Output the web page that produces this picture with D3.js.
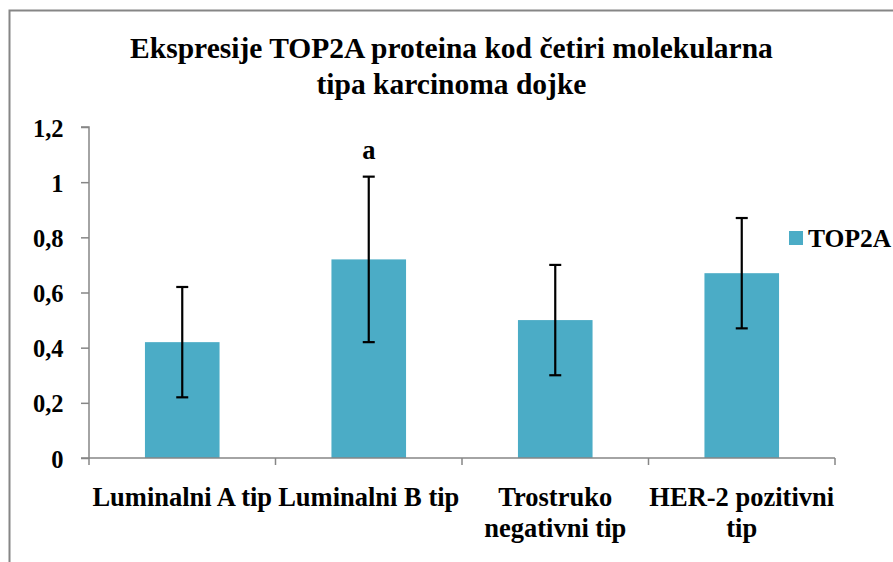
<!DOCTYPE html>
<html><head><meta charset="utf-8">
<script src="https://cdn.jsdelivr.net/npm/d3@7"></script>
<style>body{margin:0;background:#fff}svg{display:block}text{font-family:"Liberation Serif","Times New Roman",serif;font-weight:bold;fill:#000}</style>
</head><body>
<svg id="c" width="893" height="562"></svg>
<script>
const categories = [["Luminalni A tip"], ["Luminalni B tip"], ["Trostruko", "negativni tip"], ["HER-2 pozitivni", "tip"]];
const values = [0.42, 0.72, 0.5, 0.67];
const errors = [0.2, 0.3, 0.2, 0.2];
const marks = ["", "a", "", ""];
const yTicks = [0, 0.2, 0.4, 0.6, 0.8, 1, 1.2];
const tickLabels = ["0", "0,2", "0,4", "0,6", "0,8", "1", "1,2"];
const seriesName = "TOP2A";
const titleLines = ["Ekspresije TOP2A proteina kod četiri molekularna", "tipa karcinoma dojke"];

const svg = d3.select("#c");
const color = "#4BACC6";
const FONT = '"Liberation Serif","Times New Roman",serif';
// outer chart border
svg.append("rect").attr("x", 9.5).attr("y", 10.5).attr("width", 900).attr("height", 600)
  .attr("fill", "none").attr("stroke", "#868686").attr("stroke-width", 2);

const pLeft = 89, pRight = 835, pTop = 127, pBottom = 458;
const x = d3.scaleBand().domain(d3.range(categories.length)).range([pLeft, pRight]).paddingInner(0.6).paddingOuter(0.3);
const y = d3.scaleLinear().domain([0, 1.2]).range([pBottom, pTop]);

// title
svg.append("text").attr("text-anchor", "middle").style("font-size", "29.5px")
  .selectAll("tspan").data(titleLines).join("tspan").attr("x", 451.5).attr("y", (d, i) => 58 + i * 35.5).text(d => d);

// bars
svg.selectAll("rect.bar").data(values).join("rect").attr("class", "bar")
  .attr("x", (d, i) => x(i)).attr("width", x.bandwidth())
  .attr("y", d => y(d)).attr("height", d => pBottom - y(d)).attr("fill", color);

// error bars
const eg = svg.append("g").attr("stroke", "#000").attr("stroke-width", 2.2);
values.forEach((v, i) => {
  const cx = x(i) + x.bandwidth() / 2;
  eg.append("line").attr("x1", cx).attr("x2", cx).attr("y1", y(v - errors[i])).attr("y2", y(v + errors[i]));
  [v - errors[i], v + errors[i]].forEach(e => eg.append("line").attr("x1", cx - 6).attr("x2", cx + 6).attr("y1", y(e)).attr("y2", y(e)));
  if (marks[i]) svg.append("text").attr("x", cx).attr("y", y(v + errors[i]) - 17.5).attr("text-anchor", "middle")
    .style("font-size", "26.5px").text(marks[i]);
});

// y axis
const ya = svg.append("g").attr("transform", `translate(${pLeft},0)`)
  .call(d3.axisLeft(y).tickValues(yTicks).tickSize(8).tickFormat((d, i) => tickLabels[i]));
ya.select(".domain").attr("stroke", "#868686").attr("stroke-width", 1.5).attr("d", `M-8,${pTop}H0V${pBottom}H-8`);
ya.selectAll(".tick line").attr("stroke", "#868686").attr("stroke-width", 1.5);
ya.selectAll(".tick text").attr("x", -25.5).attr("dy", "9px").style("font-size", "24.5px")
  .style("font-family", FONT).style("font-weight", "bold").attr("fill", "#000");

// x axis
const xa = svg.append("g");
xa.append("line").attr("x1", pLeft).attr("x2", pRight).attr("y1", pBottom).attr("y2", pBottom).attr("stroke", "#868686").attr("stroke-width", 1.5);
const step = (pRight - pLeft) / categories.length;
d3.range(categories.length + 1).forEach(i => xa.append("line").attr("x1", pLeft + i * step).attr("x2", pLeft + i * step)
  .attr("y1", pBottom).attr("y2", pBottom + 7).attr("stroke", "#868686").attr("stroke-width", 1.5));
categories.forEach((c, i) => {
  const cx = x(i) + x.bandwidth() / 2;
  svg.append("text").attr("text-anchor", "middle").style("font-size", "26.5px")
    .selectAll("tspan").data(c).join("tspan").attr("x", cx).attr("y", (d, j) => 506 + j * 31).text(d => d);
});

// legend
svg.append("rect").attr("x", 789).attr("y", 231).attr("width", 14).attr("height", 14).attr("fill", color);
svg.append("text").attr("x", 808).attr("y", 247).style("font-size", "25.5px").text(seriesName);
</script>
</body></html>
